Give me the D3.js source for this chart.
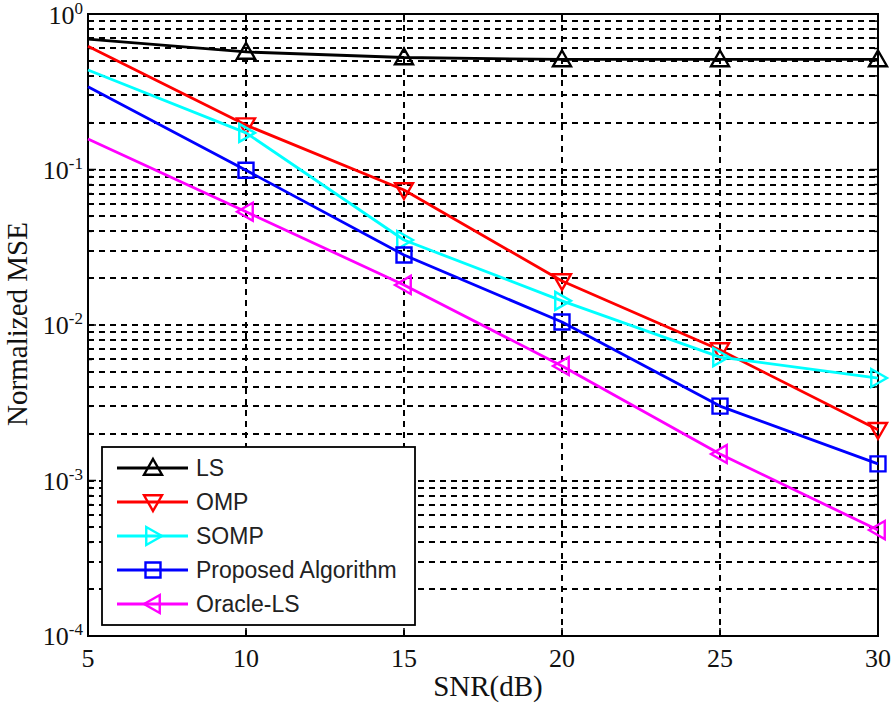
<!DOCTYPE html>
<html><head><meta charset="utf-8">
<script src="https://cdn.jsdelivr.net/npm/d3@7"></script>
<style>html,body{margin:0;padding:0;background:#fff;}svg{display:block;}</style>
</head><body>
<svg id="chart" width="896" height="705"></svg>
<script>
const snr = [5, 10, 15, 20, 25, 30];
const seriesNames = ["LS", "OMP", "SOMP", "Proposed Algorithm", "Oracle-LS"];
const lsMSE       = [0.69, 0.57, 0.525, 0.51, 0.51, 0.51];
const ompMSE      = [0.62, 0.193, 0.0738, 0.0192, 0.0069, 0.00212];
const sompMSE     = [0.436, 0.172, 0.0352, 0.0143, 0.00622, 0.00456];
const propMSE     = [0.341, 0.099, 0.0282, 0.01045, 0.00301, 0.00128];
const oracleMSE   = [0.157, 0.0535, 0.0181, 0.00545, 0.00148, 0.00048];
const xTicks = [5, 10, 15, 20, 25, 30];
const yTickExp = [0, -1, -2, -3, -4];
const colors = ["#000000", "#ff0000", "#00ffff", "#0000ff", "#ff00ff"];
const markers = ["up", "down", "right", "square", "left"];
const allSeries = [lsMSE, ompMSE, sompMSE, propMSE, oracleMSE];

const svg = d3.select("#chart");
const L = 88, R = 878, T = 14, B = 636;
const x = d3.scaleLinear().domain([5, 30]).range([L, R]);
const y = d3.scaleLog().domain([1e-4, 1]).range([B, T]);

// grid
const grid = svg.append("g");
const minorVals = [];
for (let e = -4; e < 0; e++) for (let k = 1; k <= 9; k++) minorVals.push(k * Math.pow(10, e));
minorVals.push(1);
minorVals.forEach(v => {
  const yy = Math.round(y(v));
  if (v === 1 || v === 1e-4) return;
  grid.append("line").attr("x1", L).attr("x2", R).attr("y1", yy).attr("y2", yy)
    .attr("stroke", "#000").attr("stroke-width", 2).attr("stroke-dasharray", "6,5");
});
xTicks.slice(1, -1).forEach(v => {
  const xx = Math.round(x(v));
  grid.append("line").attr("x1", xx).attr("x2", xx).attr("y1", T).attr("y2", B)
    .attr("stroke", "#000").attr("stroke-width", 2).attr("stroke-dasharray", "6,5");
});

// ticks (inward, all sides)
const tk = svg.append("g").attr("stroke", "#000").attr("stroke-width", 1.5);
xTicks.forEach(v => {
  const xx = x(v);
  tk.append("line").attr("x1", xx).attr("x2", xx).attr("y1", B).attr("y2", B - 8);
  tk.append("line").attr("x1", xx).attr("x2", xx).attr("y1", T).attr("y2", T + 8);
});
minorVals.forEach(v => {
  const yy = y(v);
  const major = Math.abs(Math.log10(v) - Math.round(Math.log10(v))) < 1e-9;
  const len = major ? 8 : 4;
  tk.append("line").attr("x1", L).attr("x2", L + len).attr("y1", yy).attr("y2", yy);
  tk.append("line").attr("x1", R).attr("x2", R - len).attr("y1", yy).attr("y2", yy);
});

// box
svg.append("rect").attr("x", L).attr("y", T).attr("width", R - L).attr("height", B - T)
  .attr("fill", "none").attr("stroke", "#000").attr("stroke-width", 2);

// tick labels
const serif = "'Liberation Serif','Times New Roman',serif";
const xl = svg.append("g").attr("font-family", serif).attr("font-size", 26).attr("fill", "#111");
xTicks.forEach(v => {
  xl.append("text").attr("x", x(v)).attr("y", 667).attr("text-anchor", "middle").text(v);
});
yTickExp.forEach(e => {
  const t = xl.append("text").attr("x", 83).attr("y", Math.max(y(Math.pow(10, e)) + 9, 24)).attr("text-anchor", "end");
  t.append("tspan").text("10");
  t.append("tspan").attr("font-size", 17).attr("dy", -10).text(e);
});

// axis labels
svg.append("text").attr("x", 488).attr("y", 696).attr("text-anchor", "middle")
  .attr("font-family", serif).attr("font-size", 29).attr("fill", "#111").text("SNR(dB)");
svg.append("text").attr("transform", "translate(27,324) rotate(-90)").attr("text-anchor", "middle")
  .attr("font-family", serif).attr("font-size", 29).attr("fill", "#111").text("Normalized MSE");

// marker path
function markerPath(type, cx, cy) {
  const s = 9;
  switch (type) {
    case "up": return `M${cx},${cy - s}L${cx + s},${cy + s * 0.75}L${cx - s},${cy + s * 0.75}Z`;
    case "down": return `M${cx},${cy + s}L${cx + s},${cy - s * 0.75}L${cx - s},${cy - s * 0.75}Z`;
    case "right": return `M${cx + s},${cy}L${cx - s * 0.75},${cy - s}L${cx - s * 0.75},${cy + s}Z`;
    case "left": return `M${cx - s},${cy}L${cx + s * 0.75},${cy - s}L${cx + s * 0.75},${cy + s}Z`;
    case "square": { const h = 7.5; return `M${cx - h},${cy - h}H${cx + h}V${cy + h}H${cx - h}Z`; }
  }
}

// series
const line = d3.line().x(d => x(d[0])).y(d => y(d[1]));
allSeries.forEach((vals, i) => {
  const pts = snr.map((s, j) => [s, vals[j]]);
  svg.append("path").datum(pts).attr("d", line).attr("fill", "none")
    .attr("stroke", colors[i]).attr("stroke-width", 2.8).attr("stroke-linejoin", "round");
  pts.filter(p => p[0] >= 10).forEach(p => {
    svg.append("path").attr("d", markerPath(markers[i], x(p[0]), y(p[1])))
      .attr("fill", "none").attr("stroke", colors[i]).attr("stroke-width", 2.4);
  });
});

// legend
const lg = svg.append("g");
lg.append("rect").attr("x", 102).attr("y", 447).attr("width", 313).attr("height", 178)
  .attr("fill", "#fff").attr("stroke", "#000").attr("stroke-width", 1.8);
seriesNames.forEach((n, i) => {
  const yy = 468 + i * 34;
  lg.append("line").attr("x1", 117).attr("x2", 188).attr("y1", yy).attr("y2", yy)
    .attr("stroke", colors[i]).attr("stroke-width", 2.8);
  lg.append("path").attr("d", markerPath(markers[i], 153, yy))
    .attr("fill", "none").attr("stroke", colors[i]).attr("stroke-width", 2.4);
  lg.append("text").attr("x", 196).attr("y", yy + 8).attr("font-family", "'Liberation Sans',Arial,sans-serif")
    .attr("font-size", 23).attr("fill", "#222").text(n);
});
</script>
</body></html>
